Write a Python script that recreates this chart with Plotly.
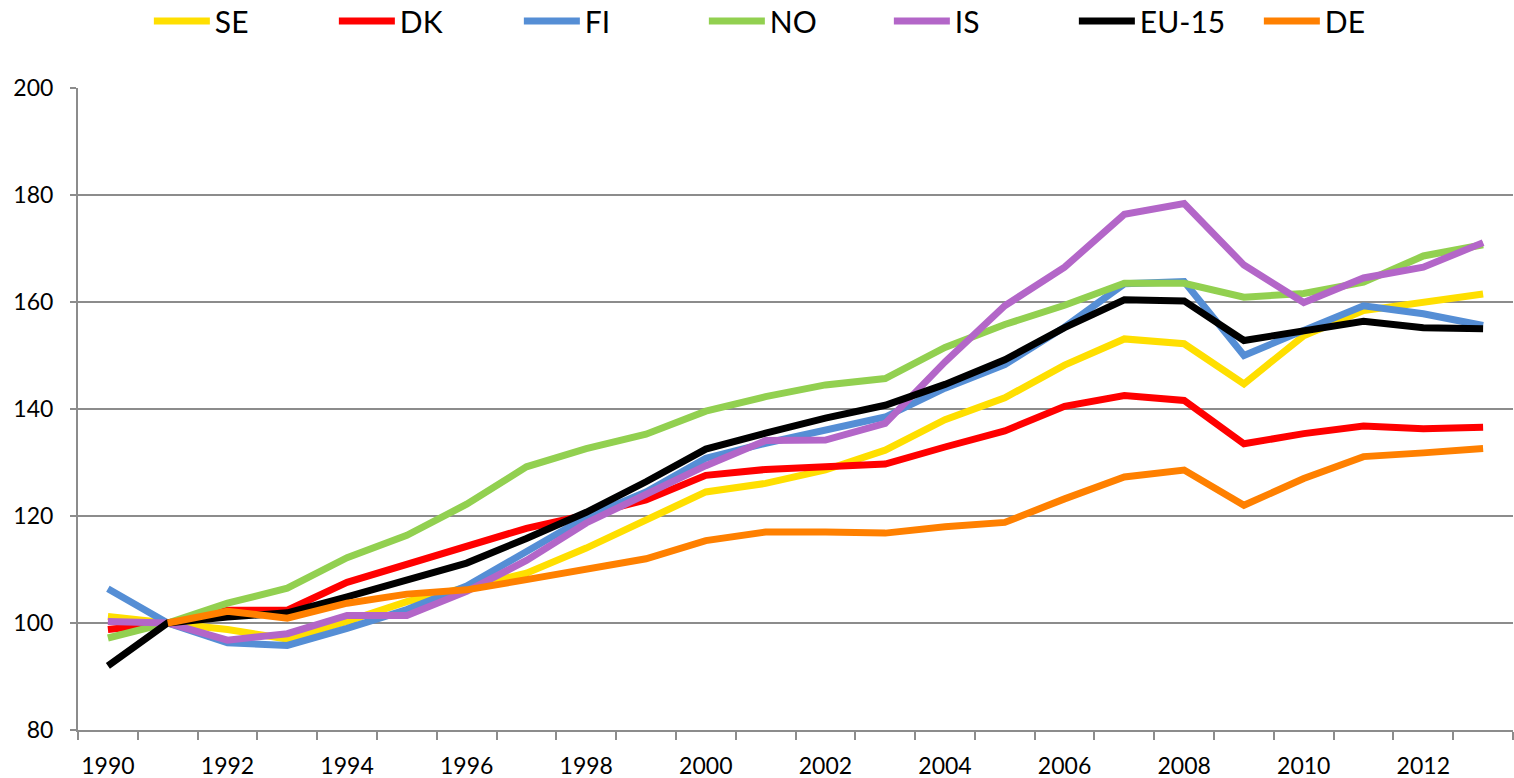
import plotly.graph_objects as go

years = list(range(1990, 2014))

se = [101.2, 100, 98.8, 97.0, 100.3, 104.0, 106.5, 109.3, 114.0, 119.3, 124.5, 126.1, 128.6, 132.3, 138.0, 142.1, 148.2, 153.1, 152.2, 144.7, 153.7, 158.4, 159.9, 161.5]
dk = [98.8, 100, 102.4, 102.4, 107.6, 111.0, 114.3, 117.7, 120.2, 123.0, 127.6, 128.7, 129.2, 129.7, 132.9, 135.9, 140.5, 142.5, 141.6, 133.5, 135.4, 136.8, 136.3, 136.6]
fi = [106.4, 100, 96.3, 95.8, 99.0, 102.5, 106.9, 113.4, 119.8, 124.5, 130.8, 133.6, 136.0, 138.5, 143.9, 148.3, 155.3, 163.4, 163.8, 150.0, 154.7, 159.3, 157.8, 155.6]
no = [97.2, 100, 103.7, 106.5, 112.2, 116.4, 122.2, 129.2, 132.6, 135.3, 139.6, 142.3, 144.5, 145.7, 151.5, 155.8, 159.4, 163.5, 163.5, 160.9, 161.6, 163.7, 168.6, 170.7]
is_ = [100.3, 100, 96.8, 98.0, 101.4, 101.4, 105.9, 111.7, 118.7, 123.9, 129.4, 134.1, 134.2, 137.3, 148.8, 159.3, 166.5, 176.4, 178.4, 166.9, 159.9, 164.5, 166.5, 171.1]
eu15 = [92.0, 100, 101.1, 101.9, 104.9, 108.2, 111.2, 115.8, 120.7, 126.4, 132.5, 135.5, 138.3, 140.7, 144.6, 149.2, 155.2, 160.4, 160.2, 152.8, 154.7, 156.4, 155.2, 155.0]
de = [None, 100, 102.2, 100.9, 103.7, 105.4, 106.2, 108.1, 110.2, 112.0, 115.4, 117.0, 117.0, 116.8, 118.0, 118.8, 123.2, 127.3, 128.6, 122.0, 127.0, 131.1, 131.8, 132.6]

series = [
    ("SE", se, "#FFDF00"),
    ("DK", dk, "#FF0000"),
    ("FI", fi, "#558ED5"),
    ("NO", no, "#92D050"),
    ("IS", is_, "#B366C8"),
    ("EU-15", eu15, "#000000"),
    ("DE", de, "#FF8000"),
]

label_years = list(range(1990, 2013, 2))

fig = go.Figure()
for name, vals, col in series:
    fig.add_trace(go.Scatter(x=years, y=vals, name=name, mode="lines",
                             line=dict(color=col, width=7), connectgaps=False))

FONT = "Lato, 'Open Sans', sans-serif"
fig.update_layout(
    width=1514, height=778,
    margin=dict(l=78, r=1, t=88, b=48, autoexpand=False),
    paper_bgcolor="white", plot_bgcolor="white",
    font=dict(family=FONT, color="#000000", size=23),
    showlegend=True,
    legend=dict(orientation="h", xref="container", x=0.526, xanchor="center",
                yref="container", y=1 - 21 / 778, yanchor="middle",
                font=dict(size=30, family=FONT), entrywidth=114, itemwidth=56,
                bgcolor="rgba(0,0,0,0)"),
    xaxis=dict(range=[1989.5, 2013.5], tickmode="array", tickvals=label_years,
               ticktext=[str(y) for y in label_years], ticks="", showgrid=False,
               showline=True, linecolor="#8C8C8C", linewidth=2, zeroline=False,
               ticklabelstandoff=14, automargin=False,
               minor=dict(tickmode="linear", tick0=1989.5, dtick=1, ticks="outside",
                          ticklen=8, tickwidth=2, tickcolor="#8C8C8C", showgrid=False),
               tickfont=dict(size=23, family=FONT)),
    yaxis=dict(range=[80, 200], dtick=20, tick0=80, showgrid=True, gridcolor="#8C8C8C",
               gridwidth=2, showline=True, linecolor="#8C8C8C", linewidth=2,
               ticks="outside", ticklen=6, tickwidth=2, tickcolor="#8C8C8C",
               zeroline=False, ticklabelstandoff=12, automargin=False,
               tickfont=dict(size=23, family=FONT)),
)

post = ("document.body.style.margin='0';document.body.style.padding='0';"
        "document.body.style.overflow='hidden';"
        "var gd=document.getElementById('{plot_id}');"
        "Plotly.relayout(gd,{width:1514,height:778});")

fig.write_html("out.html", post_script=post, config={"displayModeBar": False})
